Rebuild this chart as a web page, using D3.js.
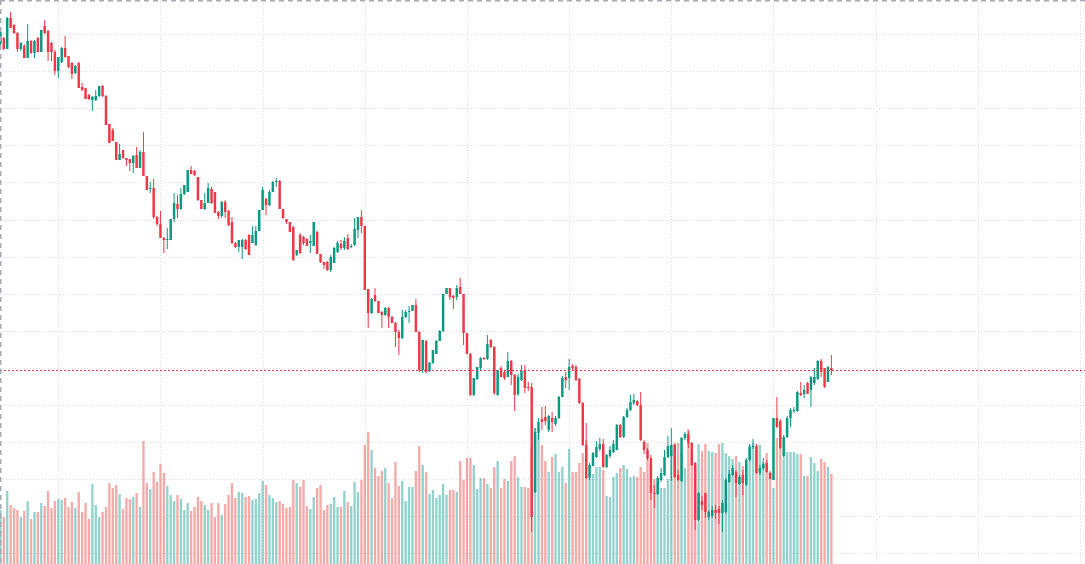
<!DOCTYPE html>
<html>
<head>
<meta charset="utf-8">
<title>Candles with volume</title>
<script src="https://cdn.jsdelivr.net/npm/d3@7"></script>
<style>
  html, body { margin: 0; padding: 0; background: #ffffff; overflow: hidden; }
  svg { display: block; }
  .grid line { stroke: #d9dbe0; stroke-width: 1; stroke-dasharray: 1,2; }
  .frame line { stroke: #a8abb3; stroke-width: 1.5; stroke-dasharray: 5,4; }
  .priceline { stroke: #f23645; stroke-width: 1; stroke-dasharray: 2,2; }
</style>
</head>
<body>
<svg id="chart" width="1085" height="564"></svg>
<script>
// OHLC series, one entry per bar
var opens = [556,562,551,582,575,567,551,554,542,559,547,562,548,574,569,557,548,529,538,552,544,537,527,537,513,512,505,500,500,504,
  514,504,476,470,458,440,450,442,441,437,445,432,448,424,411,412,383,376,362,360,360,381,396,391,406,408,430,429,423,400,
  391,397,411,408,388,384,398,389,378,357,353,353,360,365,357,355,369,390,401,395,408,418,419,391,381,378,373,345,365,363,
  361,357,354,368,346,338,338,330,337,348,356,352,362,353,355,370,383,374,311,287,305,299,288,285,292,283,277,268,262,283,
  288,289,295,268,230,259,229,237,246,259,269,306,312,304,303,313,306,267,246,205,221,232,242,241,260,253,205,232,228,223,
  239,225,206,220,230,213,213,108,167,181,183,170,182,176,182,203,223,222,234,233,221,197,155,122,134,143,151,156,133,144,
  148,150,175,163,183,190,197,199,195,158,150,142,107,106,120,125,143,144,155,125,119,162,166,157,137,80,99,107,83,84,
  90,91,87,88,118,125,128,116,125,115,140,153,154,127,132,137,127,120,182,179,144,163,182,189,189,207,206,217,210,217,
  221,239,232,218,232];
var highs = [570,563,583,588,576,568,558,556,576,560,560,563,570,580,570,558,550,543,553,564,544,538,535,538,517,512,506,504,510,514,
  515,505,476,472,458,456,450,442,441,445,453,450,468,424,418,421,384,389,363,372,381,407,405,412,415,430,434,430,423,400,
  407,417,413,408,389,399,400,390,383,358,360,361,361,366,374,374,390,413,402,410,419,422,420,391,381,378,374,350,367,364,
  362,365,378,369,346,338,339,345,353,359,360,363,366,356,382,383,390,374,311,302,312,299,289,293,293,284,278,270,290,290,
  294,295,301,269,260,260,238,250,260,270,306,312,312,305,315,322,306,267,247,222,233,243,243,265,261,254,230,234,230,248,
  240,226,226,235,235,218,217,172,182,193,194,185,188,184,204,224,228,241,236,235,222,198,177,137,148,159,162,161,146,154,
  160,176,176,184,192,205,206,200,208,160,152,145,115,124,132,150,164,172,156,130,163,168,169,158,138,108,104,107,90,94,
  95,94,100,122,130,135,130,125,130,142,156,161,156,135,142,140,128,182,203,181,165,184,192,193,209,218,215,218,224,232,
  240,241,232,234,245];
var lows = [555,550,551,572,566,548,549,542,542,546,542,548,548,566,539,539,525,522,537,542,532,521,526,512,509,501,500,489,499,503,
  503,475,457,459,440,440,441,434,429,427,432,432,424,410,407,381,374,362,347,351,360,378,382,390,405,408,426,424,399,391,
  390,397,396,387,381,382,382,374,356,352,348,341,350,345,357,354,369,390,385,394,408,413,391,381,376,368,339,344,346,355,
  354,347,354,346,337,331,329,328,337,347,350,350,350,352,354,362,367,310,272,286,298,287,272,284,272,277,253,245,261,282,
  277,289,268,228,227,227,228,236,246,259,268,306,300,291,300,306,255,246,204,204,220,230,240,240,252,205,204,223,220,223,
  215,189,204,219,207,209,68,107,160,170,175,168,168,174,181,203,212,210,230,219,196,154,121,120,134,142,149,132,132,142,
  147,150,162,162,182,189,195,194,159,146,140,100,92,105,118,124,142,119,122,119,118,160,152,134,70,79,90,82,80,82,
  81,76,68,86,117,124,103,115,105,114,139,151,126,125,130,127,121,120,172,151,143,162,173,187,188,204,202,206,193,215,
  220,223,212,218,225];
var closes = [568,551,582,572,567,551,557,542,559,547,559,548,570,567,548,548,529,543,552,543,533,526,534,512,510,501,501,503,504,514,
  504,475,457,459,440,446,442,440,437,444,432,448,424,410,412,383,376,362,360,361,381,397,391,406,415,430,426,425,400,391,
  397,412,397,387,384,398,388,375,357,353,360,360,351,345,365,369,390,410,395,408,418,419,391,382,378,368,340,350,347,357,
  354,359,378,346,338,335,330,343,352,357,352,359,351,354,371,383,374,310,287,301,299,287,285,292,283,277,268,262,283,288,
  289,295,268,230,260,228,237,250,259,269,306,312,303,302,312,306,267,246,205,222,233,242,241,256,253,207,230,223,222,239,
  225,205,223,229,212,212,83,168,178,178,179,184,178,182,203,222,220,233,232,220,197,155,122,135,147,153,156,133,145,150,
  156,175,163,183,190,198,200,195,160,150,142,107,106,122,127,143,154,155,123,120,162,166,157,135,80,107,95,88,88,90,
  87,87,97,120,126,132,117,123,117,140,153,154,127,132,136,128,121,182,173,152,163,182,190,190,208,205,210,206,223,223,
  239,228,213,233,230];
// traded volume (thousands) per bar
var volumes = [54,47,73,59,56,54,47,53,63,45,52,52,61,58,73,56,63,65,64,66,57,62,56,72,52,61,45,80,59,47,
  52,57,81,76,79,70,55,66,65,67,71,57,123,81,75,92,82,100,91,78,69,63,69,65,54,61,53,57,67,63,
  59,54,61,47,61,49,60,69,81,66,72,71,67,68,64,65,71,83,79,69,66,62,63,60,56,57,84,81,77,84,
  58,55,67,76,79,54,59,60,67,57,57,73,62,58,82,72,84,119,132,114,96,88,93,96,81,66,102,78,83,63,
  77,77,93,118,99,92,70,74,66,69,80,69,74,74,72,103,84,106,106,99,75,86,86,80,76,97,103,76,85,83,
  103,108,87,77,77,76,114,136,129,119,103,92,107,110,92,97,81,115,92,92,101,111,124,85,90,97,97,94,68,67,
  87,91,96,99,95,87,88,87,97,92,121,99,85,80,76,76,85,111,121,121,111,96,135,111,97,120,113,120,113,112,
  111,120,121,111,108,105,108,102,98,101,119,121,117,119,102,111,93,76,126,116,107,112,112,112,110,110,88,88,107,101,
  93,105,102,97,90];

// time-axis grid positions (bar index) and price levels of the horizontal grid
var timeTicks = [17, 47, 77, 107, 137, 167, 197, 227, 257, 287, 317];
var priceTicks = [566, 528.9, 491.8, 454.7, 417.6, 380.5, 343.4, 306.3, 269.2, 232.1, 195, 157.9, 120.8, 83.7, 46.6];

var width = 1085, height = 564;
var upColor = "#089981", downColor = "#f23645";
var upVol = "rgba(38,166,154,0.5)", downVol = "rgba(239,83,80,0.5)";

var bars = opens.map(function(o, i) {
  return { i: i, o: o, h: highs[i], l: lows[i], c: closes[i], v: volumes[i] };
});

var x = d3.scaleLinear().domain([0, 317]).range([0.4, 1080]);
var y = d3.scaleLinear().domain([600, 36]).range([0, height]);
var yv = d3.scaleLinear().domain([0, d3.max(volumes)]).range([height, 428]);

var spacing = x(1) - x(0);
var bodyW = spacing * 0.72;
var volW = spacing * 0.68;

var svg = d3.select("#chart");

// grid
var grid = svg.append("g").attr("class", "grid");
grid.selectAll(".h").data(priceTicks).enter().append("line")
  .attr("x1", 0).attr("x2", width)
  .attr("y1", function(d) { return Math.round(y(d)) + 0.5; })
  .attr("y2", function(d) { return Math.round(y(d)) + 0.5; });
grid.selectAll(".v").data(timeTicks).enter().append("line")
  .attr("y1", 0).attr("y2", height)
  .attr("x1", function(d) { return Math.round(x(d)) + 0.5; })
  .attr("x2", function(d) { return Math.round(x(d)) + 0.5; });

// volume histogram
svg.append("g").selectAll("rect").data(bars).enter().append("rect")
  .attr("x", function(d) { return x(d.i) - volW / 2; })
  .attr("width", volW)
  .attr("y", function(d) { return yv(d.v); })
  .attr("height", function(d) { return height - yv(d.v); })
  .attr("fill", function(d) { return d.c >= d.o ? upVol : downVol; });

// candles
var candle = svg.append("g").selectAll("g").data(bars).enter().append("g");
candle.append("line")
  .attr("x1", function(d) { return x(d.i); })
  .attr("x2", function(d) { return x(d.i); })
  .attr("y1", function(d) { return y(d.h); })
  .attr("y2", function(d) { return y(d.l); })
  .attr("stroke", function(d) { return d.c >= d.o ? upColor : downColor; })
  .attr("stroke-width", 1);
candle.append("rect")
  .attr("x", function(d) { return x(d.i) - bodyW / 2; })
  .attr("width", bodyW)
  .attr("y", function(d) { return y(Math.max(d.o, d.c)); })
  .attr("height", function(d) { return Math.max(1, Math.abs(y(d.o) - y(d.c))); })
  .attr("fill", function(d) { return d.c >= d.o ? upColor : downColor; });

// last price line
var last = closes[closes.length - 1];
svg.append("line").attr("class", "priceline")
  .attr("x1", 0).attr("x2", width)
  .attr("y1", Math.round(y(last)) + 0.5).attr("y2", Math.round(y(last)) + 0.5);

// dashed frame on top and left
var frame = svg.append("g").attr("class", "frame");
frame.append("line").attr("x1", 0).attr("x2", width).attr("y1", 0.75).attr("y2", 0.75);
frame.append("line").attr("x1", 0.75).attr("x2", 0.75).attr("y1", 0).attr("y2", height);
</script>
</body>
</html>
